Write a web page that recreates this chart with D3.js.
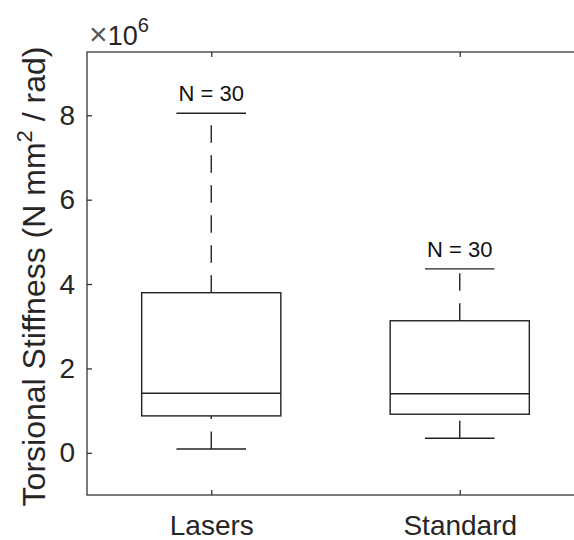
<!DOCTYPE html>
<html>
  <head>
    <style>
      html,
      body {
        margin: 0;
        padding: 0;
        background: #fff;
      }
      svg {
        display: block;
        font-family: 'Liberation Sans', Arial, Helvetica, sans-serif;
      }
    </style>
  </head>
  <body>
    <svg width="574" height="540"></svg>

    <script src="https://cdn.jsdelivr.net/npm/d3@7"></script>
    <script>
      // values in units of 10^6 N mm^2 / rad
      const groups = ['Lasers', 'Standard'];
      const whiskerLow = [0.09, 0.345];
      const q1 = [0.875, 0.915];
      const median = [1.41, 1.4];
      const q3 = [3.795, 3.13];
      const whiskerHigh = [8.05, 4.36];
      const counts = [30, 30];
      const yTicks = [0, 2, 4, 6, 8];
    </script>
    <script>
      const svg = d3.select('svg');
      const ink = '#262626';

      const x = d3.scaleLinear().domain([0.5, 2.5]).range([87, 584]); // matlab style positions 1, 2
      const y = d3.scaleLinear().domain([-1, 9.5]).range([495, 52]);

      const boxHalf = 0.28; // in x units
      const capHalf = 0.14;

      // axes frame
      const frame = svg.append('g').attr('stroke', ink).attr('stroke-width', 1.2).attr('fill', 'none');
      frame.append('rect')
        .attr('x', x(0.5))
        .attr('y', y(9.5))
        .attr('width', x(2.5) - x(0.5))
        .attr('height', y(-1) - y(9.5));

      // y ticks (inward) + labels
      const yAxis = d3.axisLeft(y).tickValues(yTicks).tickSize(-5).tickPadding(12).tickFormat(d3.format('d'));
      const gy = svg.append('g').attr('transform', `translate(${x(0.5)},0)`).call(yAxis);
      gy.select('.domain').remove();
      gy.selectAll('.tick line').attr('stroke', ink).attr('stroke-width', 1.2);
      gy.selectAll('.tick text')
        .attr('fill', ink)
        .attr('font-size', 28)
        .attr('font-family', "'Liberation Sans', Arial, sans-serif");

      // x ticks bottom + top (inward)
      const xAxis = d3.axisBottom(x).tickValues([1, 2]).tickSize(-5).tickPadding(20).tickFormat((d, i) => groups[i]);
      const gx = svg.append('g').attr('transform', `translate(0,${y(-1)})`).call(xAxis);
      gx.select('.domain').remove();
      gx.selectAll('.tick line').attr('stroke', ink).attr('stroke-width', 1.2);
      gx.selectAll('.tick text')
        .attr('fill', ink)
        .attr('font-size', 28)
        .attr('font-family', "'Liberation Sans', Arial, sans-serif");

      const gxTop = svg.append('g').attr('transform', `translate(0,${y(9.5)})`)
        .call(d3.axisTop(x).tickValues([1, 2]).tickSize(-5).tickFormat(''));
      gxTop.select('.domain').remove();
      gxTop.selectAll('.tick line').attr('stroke', ink).attr('stroke-width', 1.2);

      // exponent label
      const expo = svg.append('text')
        .attr('x', x(0.5) + 2)
        .attr('y', 45)
        .attr('fill', ink)
        .attr('font-size', 27);
      expo.append('tspan').attr('font-size', 32).attr('font-weight', 300).attr('fill', '#555').text('\u00d7');
      expo.append('tspan').text('10');
      expo.append('tspan').attr('font-size', 20).attr('dy', -13).text('6');

      // y axis title
      const ylab = svg.append('text')
        .attr('transform', `translate(45,${(y(-1) + y(9.5)) / 2 + 3}) rotate(-90)`)
        .attr('text-anchor', 'middle')
        .attr('fill', ink)
        .attr('font-size', 32);
      ylab.append('tspan').text('Torsional Stiffness (N mm');
      ylab.append('tspan').attr('font-size', 22).attr('dy', -13).text('2');
      ylab.append('tspan').attr('dy', 13).text(' / rad)');

      // boxes
      const boxes = svg.append('g').attr('fill', 'none').attr('stroke', '#222').attr('stroke-width', 1.4);
      groups.forEach((g, i) => {
        const p = i + 1;
        const b = boxes.append('g');
        // whiskers, dashed, drawn bottom to top
        b.append('line')
          .attr('x1', x(p)).attr('x2', x(p))
          .attr('y1', y(whiskerLow[i])).attr('y2', y(q1[i]))
          .attr('stroke-dasharray', '17.5,12.5');
        b.append('line')
          .attr('x1', x(p)).attr('x2', x(p))
          .attr('y1', y(q3[i])).attr('y2', y(whiskerHigh[i]))
          .attr('stroke-dasharray', '17.5,12.5');
        // caps
        [whiskerLow[i], whiskerHigh[i]].forEach((v) => {
          b.append('line')
            .attr('x1', x(p - capHalf)).attr('x2', x(p + capHalf))
            .attr('y1', y(v)).attr('y2', y(v));
        });
        // box
        b.append('rect')
          .attr('x', x(p - boxHalf))
          .attr('y', y(q3[i]))
          .attr('width', x(p + boxHalf) - x(p - boxHalf))
          .attr('height', y(q1[i]) - y(q3[i]));
        // median
        b.append('line')
          .attr('x1', x(p - boxHalf)).attr('x2', x(p + boxHalf))
          .attr('y1', y(median[i])).attr('y2', y(median[i]));
        // N label
        svg.append('text')
          .attr('x', x(p))
          .attr('y', y(whiskerHigh[i]) - 12)
          .attr('text-anchor', 'middle')
          .attr('fill', '#111')
          .attr('font-size', 22)
          .text('N = ' + counts[i]);
      });
    </script>
  </body>
</html>
